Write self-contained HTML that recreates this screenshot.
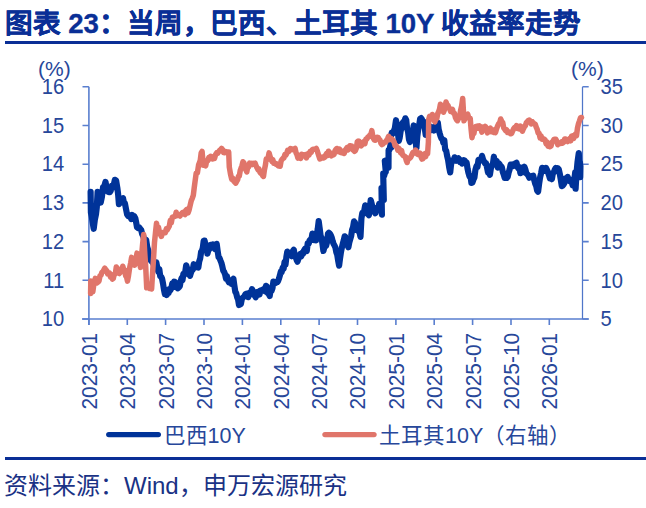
<!DOCTYPE html>
<html lang="zh-CN"><head><meta charset="utf-8"><style>
html,body{margin:0;padding:0;background:#fff;}
body{width:646px;height:508px;overflow:hidden;position:relative;font-family:"Liberation Sans",sans-serif;}
.title{position:absolute;left:5px;top:1px;font-size:27.6px;font-weight:bold;-webkit-text-stroke:0.35px #0a2f96;color:#0a2f96;white-space:nowrap;letter-spacing:-0.1px;}
.rule{position:absolute;left:5px;width:641px;height:3px;background:#0a2f96;}
.foot{position:absolute;left:4px;top:466px;font-size:24px;color:#1a3285;white-space:nowrap;}
svg{position:absolute;left:0;top:0;}
.t{font-size:21px;fill:#27479a;font-family:"Liberation Sans",sans-serif;}
.l{font-size:21.5px;fill:#27479a;font-family:"Liberation Sans",sans-serif;}
</style></head><body>
<div class="title">图表 23：当周，巴西、土耳其 10Y 收益率走势</div>
<div class="rule" style="top:41px"></div>
<svg width="646" height="508" viewBox="0 0 646 508">
<path d="M88.9 86.8 V325 M82 319.0 H588.7" stroke="#5a7fcf" stroke-width="1.6" fill="none"/>
<path d="M582.5 86.8 V319.0" stroke="#4f76c9" stroke-width="1.25" fill="none"/>
<path d="M82.5 86.8 H88.9 M582.5 86.8 H588.7 M82.5 125.5 H88.9 M582.5 125.5 H588.7 M82.5 164.2 H88.9 M582.5 164.2 H588.7 M82.5 202.9 H88.9 M582.5 202.9 H588.7 M82.5 241.6 H88.9 M582.5 241.6 H588.7 M82.5 280.3 H88.9 M582.5 280.3 H588.7 M82.5 319.0 H88.9 M582.5 319.0 H588.7 M88.9 319.0 V325 M127.3 319.0 V325 M165.6 319.0 V325 M204.0 319.0 V325 M242.4 319.0 V325 M280.8 319.0 V325 M319.1 319.0 V325 M357.5 319.0 V325 M395.9 319.0 V325 M434.2 319.0 V325 M472.6 319.0 V325 M511.0 319.0 V325 M549.3 319.0 V325" stroke="#5a7fcf" stroke-width="1.6" fill="none"/>
<text transform="translate(64.2,94.0) scale(0.96,1.03)" text-anchor="end" class="t">16</text>
<text transform="translate(64.2,132.7) scale(0.96,1.03)" text-anchor="end" class="t">15</text>
<text transform="translate(64.2,171.4) scale(0.96,1.03)" text-anchor="end" class="t">14</text>
<text transform="translate(64.2,210.1) scale(0.96,1.03)" text-anchor="end" class="t">13</text>
<text transform="translate(64.2,248.8) scale(0.96,1.03)" text-anchor="end" class="t">12</text>
<text transform="translate(64.2,287.5) scale(0.96,1.03)" text-anchor="end" class="t">11</text>
<text transform="translate(64.2,326.2) scale(0.96,1.03)" text-anchor="end" class="t">10</text>
<text transform="translate(600.5,94.0) scale(0.96,1.03)" text-anchor="start" class="t">35</text>
<text transform="translate(600.5,132.7) scale(0.96,1.03)" text-anchor="start" class="t">30</text>
<text transform="translate(600.5,171.4) scale(0.96,1.03)" text-anchor="start" class="t">25</text>
<text transform="translate(600.5,210.1) scale(0.96,1.03)" text-anchor="start" class="t">20</text>
<text transform="translate(600.5,248.8) scale(0.96,1.03)" text-anchor="start" class="t">15</text>
<text transform="translate(600.5,287.5) scale(0.96,1.03)" text-anchor="start" class="t">10</text>
<text transform="translate(600.5,326.2) scale(0.96,1.03)" text-anchor="start" class="t">5</text>
<text x="38" y="76" class="t">(%)</text>
<text x="571" y="76" class="t">(%)</text>
<text transform="translate(96.8,409.5) rotate(-90) scale(0.995,1.04)" class="t">2023-01</text>
<text transform="translate(135.2,409.5) rotate(-90) scale(0.995,1.04)" class="t">2023-04</text>
<text transform="translate(173.5,409.5) rotate(-90) scale(0.995,1.04)" class="t">2023-07</text>
<text transform="translate(211.9,409.5) rotate(-90) scale(0.995,1.04)" class="t">2023-10</text>
<text transform="translate(250.3,409.5) rotate(-90) scale(0.995,1.04)" class="t">2024-01</text>
<text transform="translate(288.6,409.5) rotate(-90) scale(0.995,1.04)" class="t">2024-04</text>
<text transform="translate(327.0,409.5) rotate(-90) scale(0.995,1.04)" class="t">2024-07</text>
<text transform="translate(365.4,409.5) rotate(-90) scale(0.995,1.04)" class="t">2024-10</text>
<text transform="translate(403.8,409.5) rotate(-90) scale(0.995,1.04)" class="t">2025-01</text>
<text transform="translate(442.1,409.5) rotate(-90) scale(0.995,1.04)" class="t">2025-04</text>
<text transform="translate(480.5,409.5) rotate(-90) scale(0.995,1.04)" class="t">2025-07</text>
<text transform="translate(518.9,409.5) rotate(-90) scale(0.995,1.04)" class="t">2025-10</text>
<text transform="translate(557.2,409.5) rotate(-90) scale(0.995,1.04)" class="t">2026-01</text>
<polyline points="90.6,191.9 90.9,212.5 91.8,216.7 92.8,223.4 93.7,228.8 94.8,219.9 96.0,214.1 96.8,207.2 97.6,191.9 98.6,194.9 99.7,202.6 100.7,202.6 101.9,196.9 103.1,186.9 104.3,186.3 105.5,181.9 106.5,187.4 107.6,191.4 108.6,191.9 109.7,192.2 110.7,190.7 111.8,186.0 112.8,187.6 113.9,184.1 114.9,179.8 116.1,180.4 117.3,187.7 118.1,194.0 118.9,204.1 119.9,203.0 121.0,199.9 122.0,199.0 123.0,198.2 124.0,203.0 124.9,203.2 125.9,208.5 127.1,214.5 128.3,216.1 129.3,215.5 130.2,215.3 131.2,219.0 132.2,215.0 133.3,217.2 134.3,216.3 135.4,218.5 136.2,222.6 137.0,227.1 138.0,228.0 139.1,227.4 140.1,228.8 141.2,230.1 142.2,234.2 143.3,236.4 144.3,239.9 145.3,240.6 146.2,240.1 147.2,246.9 148.2,250.2 149.1,255.4 150.0,259.0 151.1,260.9 152.1,259.0 153.2,263.8 154.2,263.3 155.3,262.6 156.3,262.3 157.4,268.1 158.3,271.7 159.3,269.1 160.2,276.2 161.2,276.7 162.1,278.8 163.0,283.4 164.0,289.9 164.9,294.2 165.8,293.0 166.7,295.0 167.7,290.2 168.6,292.9 169.5,289.2 170.4,290.2 171.3,288.4 172.3,283.3 173.2,283.9 174.1,281.6 175.1,282.1 176.0,287.1 177.0,285.5 177.9,288.4 178.8,287.3 179.8,286.2 180.7,281.2 181.6,278.2 182.5,280.1 183.4,273.8 184.4,274.7 185.3,271.4 186.2,265.3 187.1,268.1 188.1,270.8 189.1,273.8 190.0,275.9 190.9,272.9 191.8,270.5 192.8,269.6 193.7,264.2 194.6,264.7 195.6,267.4 196.5,265.4 197.4,266.7 198.3,267.5 199.2,261.5 200.2,258.4 201.1,252.0 202.0,250.6 202.8,247.9 203.7,240.8 204.6,240.6 205.5,245.0 206.5,245.9 207.4,253.7 208.3,250.4 209.2,249.3 210.2,245.0 211.1,244.8 212.0,246.9 213.0,244.4 213.9,246.5 214.8,248.9 215.8,249.4 216.7,243.9 217.6,250.7 218.6,257.2 219.5,258.0 220.5,260.7 221.4,262.9 222.3,266.3 223.3,270.8 224.2,272.1 225.1,274.4 226.0,278.7 226.9,276.1 227.8,280.2 228.8,282.2 229.8,280.5 230.7,280.9 231.6,283.8 232.5,279.8 233.4,278.8 234.3,285.3 235.3,291.8 236.2,293.2 237.1,297.0 238.1,299.5 239.0,305.0 239.9,302.0 240.9,303.9 241.8,299.2 242.7,297.7 243.7,297.0 244.6,295.8 245.5,294.1 246.4,293.6 247.4,293.9 248.3,297.2 249.2,292.8 250.2,294.2 251.1,292.0 252.0,289.2 252.9,290.9 253.9,295.1 254.8,295.3 255.7,297.3 256.6,293.9 257.6,291.9 258.5,292.2 259.5,294.5 260.4,290.6 261.3,290.4 262.2,290.2 263.1,289.5 264.1,288.8 265.0,291.2 265.9,285.9 266.8,286.3 267.8,293.2 268.8,294.0 269.7,295.9 270.6,290.1 271.5,290.8 272.5,288.2 273.4,281.5 274.3,282.2 275.2,283.2 276.1,282.6 277.1,282.2 278.0,281.3 278.9,278.8 279.9,275.4 280.8,271.6 281.7,271.9 282.6,267.8 283.6,268.7 284.6,261.8 285.5,264.6 286.4,256.8 287.3,251.6 288.2,253.4 289.1,255.2 290.1,255.2 291.0,253.7 291.9,256.2 292.9,250.9 293.8,249.8 294.7,255.1 295.7,257.3 296.6,259.8 297.5,261.7 298.5,258.5 299.4,255.6 300.3,253.9 301.3,256.3 302.2,252.8 303.1,253.8 304.0,250.5 305.0,248.8 305.9,250.1 306.8,251.0 307.7,243.4 308.7,243.5 309.6,240.5 310.5,239.4 311.5,239.0 312.4,233.6 313.3,236.9 314.2,240.1 315.2,237.1 316.1,240.3 317.0,233.6 317.8,228.5 318.7,221.1 319.6,227.8 320.6,235.9 321.5,237.6 322.5,244.2 323.4,251.0 324.3,247.5 325.2,243.8 326.1,245.8 327.1,241.7 328.0,233.6 328.9,232.7 329.8,233.5 330.8,235.3 331.7,237.4 332.6,241.1 333.5,243.8 334.5,245.5 335.4,247.5 336.3,252.1 337.2,254.6 338.2,260.9 339.1,265.6 340.0,258.6 341.0,251.9 341.9,247.5 342.8,243.7 343.8,240.2 344.7,236.3 345.6,237.1 346.5,242.9 347.5,245.1 348.4,247.2 349.3,242.5 350.3,238.9 351.2,235.8 352.1,229.8 353.1,227.1 354.0,221.4 354.9,222.5 355.9,226.7 356.8,230.2 357.7,227.8 358.6,231.3 359.6,232.8 360.5,236.9 361.4,218.6 362.3,212.9 363.3,213.7 364.2,210.8 365.2,205.3 366.1,208.4 367.0,208.2 368.0,214.2 368.9,215.2 369.8,208.6 370.7,200.2 371.6,203.4 372.5,207.7 373.5,210.6 374.4,211.8 375.3,213.2 376.3,208.2 377.2,207.6 378.2,209.8 379.1,204.0 380.0,206.1 381.0,208.0 381.9,214.6 381.5,188.1 382.6,191.1 383.8,200.0 383.2,173.7 384.1,176.1 384.9,173.0 385.8,172.0 384.8,160.7 385.7,160.5 386.6,163.8 387.6,161.2 388.5,167.6 388.6,150.1 389.5,149.9 390.5,144.9 391.4,147.4 390.6,138.6 391.7,132.7 392.8,133.6 393.9,130.8 394.9,128.0 396.0,120.2 396.9,126.0 397.9,132.6 398.8,141.0 399.7,137.6 400.6,131.3 401.6,127.0 402.5,123.0 403.4,121.8 404.4,121.3 405.3,118.3 406.2,119.9 407.1,128.8 408.0,131.4 409.0,139.5 409.9,142.0 410.8,140.5 411.8,136.2 412.8,131.1 413.7,125.5 414.6,132.1 415.5,139.9 416.4,148.3 417.3,136.3 418.3,128.6 419.2,125.0 420.2,118.6 421.1,118.1 422.0,119.5 423.0,123.0 423.9,121.7 424.8,128.7 425.7,134.8 426.6,134.8 427.5,130.8 428.5,128.0 429.4,128.4 430.3,130.5 431.3,127.0 432.2,129.9 433.2,128.6 434.1,130.5 435.0,128.1 436.0,125.5 436.9,124.4 437.8,122.5 438.7,129.6 439.7,133.4 440.6,136.4 441.5,138.5 442.5,139.2 443.4,142.9 444.3,140.1 445.2,149.5 446.2,150.7 447.1,155.8 448.1,160.1 449.2,167.4 450.2,172.4 450.9,165.9 451.7,160.6 452.6,161.1 453.6,161.0 454.6,157.3 455.5,158.4 456.4,160.7 457.4,158.7 458.3,158.2 459.2,159.1 460.1,162.0 461.0,161.8 462.0,163.5 462.9,162.8 463.8,160.1 464.8,160.7 465.7,162.0 466.6,162.5 467.6,168.9 468.5,173.0 469.5,176.5 470.5,175.9 471.4,182.8 472.4,182.7 473.4,179.5 474.4,177.6 475.4,169.9 476.5,166.2 477.5,166.8 478.5,159.8 479.4,159.6 480.2,160.4 481.1,160.5 482.0,155.9 483.0,159.4 484.1,161.6 485.1,163.4 486.1,163.3 487.1,167.9 488.0,172.5 488.9,171.5 489.9,174.8 490.9,168.3 491.9,165.4 492.9,163.9 493.9,156.7 494.9,162.8 495.9,164.5 496.8,161.1 497.8,167.6 498.8,163.2 499.8,164.6 500.8,167.2 501.8,167.0 502.8,171.9 503.7,174.4 504.7,177.9 505.7,177.3 506.7,177.9 507.7,176.7 508.6,172.7 509.6,169.5 510.6,164.6 511.6,166.1 512.6,164.5 513.5,165.9 514.5,164.9 515.5,163.4 516.5,162.7 517.5,167.0 518.4,168.5 519.4,167.4 520.4,173.2 521.4,171.3 522.4,167.6 523.4,172.0 524.4,166.7 525.4,169.5 526.4,173.4 527.3,174.2 528.3,175.5 529.3,177.7 530.3,176.9 531.3,176.4 532.2,176.0 533.2,175.7 534.2,180.0 535.2,183.7 536.2,185.9 537.1,190.5 538.1,191.7 539.1,183.9 540.1,177.4 541.1,173.1 542.1,167.8 543.1,170.1 544.0,168.2 545.0,170.9 546.0,168.0 547.0,169.9 548.0,172.2 548.9,175.0 549.9,178.4 550.9,177.8 551.9,179.1 552.9,173.0 553.9,172.3 554.8,169.6 555.8,167.9 556.8,170.3 557.8,168.3 558.8,169.4 559.8,173.9 560.8,179.7 561.8,186.1 562.8,185.5 563.8,184.1 564.8,182.2 565.7,178.5 566.7,179.1 567.7,176.9 568.7,179.8 569.7,181.1 570.7,179.9 571.6,181.1 572.6,185.3 573.6,181.8 574.4,179.1 575.2,172.3 575.6,188.7 576.5,173.3 577.5,162.3 578.8,153.0 579.6,172.8 580.0,162.9 580.2,177.1 580.4,166.0" stroke="#003399" stroke-width="6.2" fill="none" stroke-linejoin="round" stroke-linecap="round"/>
<polyline points="90.6,293.5 90.8,281.1 91.8,286.3 92.8,291.9 93.6,286.1 94.4,281.9 95.3,278.3 96.2,280.5 97.1,282.9 98.0,282.0 99.0,281.1 100.0,275.7 101.0,275.3 101.9,272.3 102.9,271.7 103.9,269.8 104.8,268.1 105.8,269.7 106.7,270.6 107.7,274.1 108.6,274.2 109.5,272.9 110.5,277.1 111.4,275.6 112.4,279.1 113.3,278.4 114.3,273.9 115.3,273.8 116.3,267.0 117.3,268.2 118.3,272.8 119.4,273.5 120.4,272.1 121.6,271.5 122.8,266.2 123.7,269.4 124.7,269.9 125.6,275.7 126.6,277.2 127.5,281.1 128.5,275.7 129.6,268.1 130.6,263.3 131.6,257.4 132.6,259.7 133.6,261.7 134.6,265.1 135.8,261.1 137.0,253.1 137.9,258.8 138.8,259.9 139.6,262.5 140.5,267.4 141.6,255.4 142.6,244.2 143.7,234.4 144.7,252.5 145.7,266.7 146.7,287.8 147.7,284.0 148.7,287.6 149.6,288.4 150.6,285.2 151.6,289.0 152.6,272.7 153.5,259.2 154.5,242.2 155.5,232.6 156.5,223.3 157.5,228.7 158.5,227.3 159.4,231.7 160.4,234.4 161.4,236.4 162.4,233.0 163.4,232.3 164.3,232.3 165.3,232.6 166.3,228.9 167.3,229.7 168.3,227.9 169.3,226.2 170.3,220.6 171.3,222.7 172.3,217.3 173.3,216.9 174.2,216.5 175.2,216.3 176.2,212.2 177.1,215.7 178.1,215.0 179.1,215.0 180.0,216.0 181.0,214.4 182.0,213.0 183.0,212.3 184.0,213.7 185.0,214.5 186.0,210.3 187.0,209.3 188.0,212.9 189.0,210.3 190.1,205.7 191.2,200.9 192.2,198.5 193.3,195.4 194.2,187.9 195.0,181.9 196.2,173.2 197.4,172.9 198.6,164.8 199.5,162.7 200.3,160.1 201.2,152.9 202.1,151.4 203.3,165.3 204.5,164.5 205.7,165.8 206.7,161.0 207.8,160.7 208.8,157.6 209.8,158.9 210.7,156.3 211.7,156.8 212.6,158.9 213.6,158.1 214.5,158.4 215.7,154.3 216.9,152.6 217.8,153.2 218.8,151.5 219.7,150.2 220.7,150.1 221.6,148.4 222.6,149.7 223.6,152.6 224.7,152.8 225.7,151.6 226.7,152.0 227.7,152.2 228.7,152.1 229.3,167.1 230.5,174.0 231.7,179.1 232.7,178.1 233.8,181.1 234.8,182.2 235.8,183.1 236.7,181.2 237.6,179.8 238.4,176.3 239.3,176.1 240.2,170.7 241.1,168.0 242.0,165.7 242.9,161.8 243.9,162.7 244.9,168.3 245.8,169.6 246.8,172.0 247.7,167.0 248.7,166.9 249.6,163.1 250.5,164.6 251.4,163.3 252.4,164.5 253.3,163.3 254.2,163.6 255.1,163.1 256.1,165.9 257.0,167.8 258.0,169.7 258.9,169.0 259.8,172.1 260.7,173.2 261.7,173.3 262.6,175.6 263.5,176.4 264.4,169.8 265.4,165.2 266.3,158.9 267.2,159.4 268.2,157.4 269.1,152.9 270.0,156.3 271.0,158.9 271.9,161.4 272.8,159.7 273.7,163.2 274.7,163.0 275.6,164.2 276.5,163.9 277.4,165.0 278.4,165.9 279.3,165.5 280.2,166.1 281.1,160.9 282.1,159.3 283.0,158.3 283.9,157.9 284.9,154.6 285.8,155.2 286.7,153.6 287.6,150.4 288.6,151.6 289.6,149.9 290.5,148.5 291.4,148.9 292.3,149.7 293.3,149.1 294.2,149.2 295.1,148.5 296.0,152.7 297.0,154.7 297.9,158.1 298.8,157.7 299.8,155.8 300.7,158.5 301.6,154.2 302.6,155.7 303.5,154.8 304.4,155.6 305.4,154.6 306.3,157.9 307.2,156.1 308.2,153.5 309.1,154.9 310.1,151.5 311.1,152.4 312.1,149.8 313.2,149.2 314.2,149.2 315.2,149.4 316.3,148.5 317.3,151.1 318.6,155.3 319.8,159.0 320.7,157.1 321.6,158.2 322.6,157.1 323.5,157.9 324.5,157.5 325.5,155.4 326.5,153.7 327.5,155.6 328.5,151.2 329.4,152.3 330.4,154.9 331.3,155.8 332.2,154.3 333.1,154.9 334.0,154.5 335.0,150.7 335.9,149.4 336.8,148.5 337.8,148.8 338.7,151.8 339.6,149.2 340.5,152.4 341.5,152.8 342.4,152.0 343.3,151.1 344.2,153.4 345.2,150.3 346.2,149.0 347.1,147.6 348.0,149.9 349.0,147.2 349.9,145.7 350.8,145.9 351.7,145.9 352.6,149.6 353.6,150.4 354.5,151.3 355.4,150.6 356.4,148.0 357.3,141.7 358.2,141.1 359.1,141.3 360.0,145.4 361.0,146.0 361.9,144.9 362.9,143.5 363.9,141.5 364.9,143.7 365.9,139.1 366.9,139.0 367.9,137.1 368.9,136.7 369.8,135.2 370.8,134.6 371.8,130.6 373.1,137.8 374.3,140.1 375.2,140.2 376.1,138.4 377.1,137.3 378.0,137.4 379.0,138.9 380.0,140.1 381.0,143.5 382.0,144.6 383.0,143.9 383.9,142.9 384.9,142.0 385.8,142.1 386.7,140.1 387.6,138.6 388.6,136.3 389.5,139.6 390.4,138.1 391.4,138.7 392.3,139.3 393.2,140.8 394.1,142.0 395.1,145.8 396.0,145.3 396.9,147.2 397.8,150.2 398.8,148.2 399.7,149.6 400.6,152.9 401.6,150.5 402.5,154.8 403.4,155.6 404.4,156.0 405.3,156.8 406.3,160.5 407.2,162.5 408.1,158.2 409.0,158.8 410.0,158.1 410.9,157.0 411.8,154.9 412.8,152.7 413.7,153.2 414.6,152.8 415.5,150.0 416.5,151.2 417.4,154.2 418.3,154.6 419.2,154.9 420.1,153.1 421.1,157.1 422.0,159.1 422.9,158.7 423.9,157.0 424.8,153.7 425.7,156.7 426.6,152.9 427.6,153.6 428.4,142.0 428.7,119.4 429.6,116.3 430.5,116.3 431.5,118.5 432.4,114.5 433.6,119.6 434.9,121.8 435.8,118.5 436.8,118.4 437.7,113.7 438.6,111.8 439.5,109.3 440.4,104.2 441.4,105.8 442.5,109.8 443.5,112.2 444.8,109.0 446.0,102.0 446.9,104.5 447.9,105.3 448.8,107.8 449.7,108.6 450.6,111.5 451.5,109.9 452.5,109.4 453.4,113.2 454.4,113.2 455.5,117.8 456.5,119.7 457.5,120.7 458.6,118.3 459.6,117.7 460.6,110.3 461.7,105.7 462.7,98.5 464.0,120.8 464.9,118.5 465.9,115.6 466.8,114.9 467.7,114.2 468.9,118.3 470.2,118.3 471.1,129.3 472.0,137.8 472.9,133.1 473.9,133.5 474.8,128.8 475.7,126.7 476.6,128.2 477.5,126.0 478.5,128.2 479.4,125.8 480.6,127.6 481.9,132.2 483.1,127.0 484.4,128.2 485.4,126.5 486.5,128.1 487.5,132.9 488.4,131.4 489.4,129.0 490.3,128.2 491.2,131.7 492.3,131.0 493.4,132.3 494.4,129.9 495.5,132.6 496.5,129.0 497.6,126.0 498.6,123.9 499.7,122.7 500.7,119.0 501.7,121.4 502.7,122.5 503.7,127.8 504.7,129.2 505.7,130.7 506.7,129.9 507.6,132.5 508.6,131.9 509.6,133.1 510.6,133.8 511.6,133.6 512.6,131.1 513.6,128.8 514.5,127.5 515.5,127.3 516.5,125.6 517.5,128.3 518.5,127.1 519.5,128.9 520.4,126.1 521.4,128.8 522.4,131.2 523.4,128.8 524.4,126.7 525.4,125.6 526.3,122.7 527.3,121.7 528.3,120.5 529.3,120.1 530.3,121.0 531.3,124.0 532.2,121.6 533.2,122.9 534.2,123.8 535.2,124.1 536.2,127.1 537.2,129.3 538.1,132.9 539.1,133.3 540.1,137.9 541.1,136.0 542.1,139.1 543.1,138.6 544.1,139.2 545.1,140.0 546.1,143.9 547.0,142.0 548.0,146.2 549.0,146.3 550.0,146.8 551.0,145.9 552.0,142.3 552.9,141.4 553.9,139.4 554.9,139.2 555.9,139.3 556.9,141.5 557.8,144.8 558.8,142.9 559.8,143.5 560.8,143.4 561.8,141.8 562.7,143.0 563.7,142.1 564.7,138.9 565.7,139.0 566.7,140.6 567.7,141.5 568.6,139.9 569.6,138.7 570.6,140.8 571.6,136.2 572.6,135.9 573.6,138.4 574.5,136.2 575.5,134.0 576.5,135.6 577.5,127.8 578.5,123.7 579.5,120.9 580.5,117.7 581.5,117.5" stroke="#e0756a" stroke-width="5.5" fill="none" stroke-linejoin="round" stroke-linecap="round"/>
<line x1="108.8" y1="434.6" x2="158.3" y2="434.6" stroke="#003399" stroke-width="5.4" stroke-linecap="round"/>
<text x="163.6" y="443" class="l">巴西10Y</text>
<line x1="325" y1="434.6" x2="374" y2="434.6" stroke="#e0756a" stroke-width="5.4" stroke-linecap="round"/>
<text x="379" y="443" class="l">土耳其10Y（右轴）</text>
</svg>
<div class="rule" style="top:457px"></div>
<div class="foot">资料来源：Wind，申万宏源研究</div>
</body></html>
